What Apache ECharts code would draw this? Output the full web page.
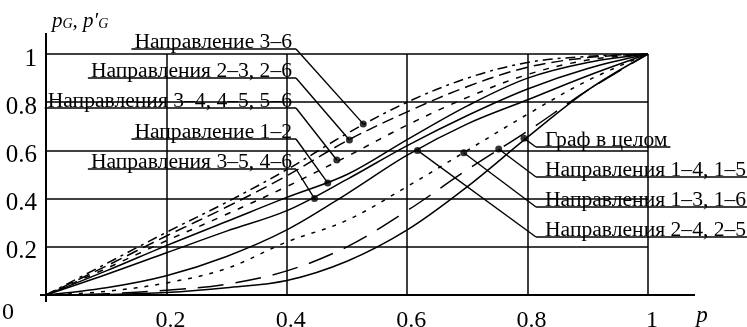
<!DOCTYPE html>
<html><head><meta charset="utf-8">
<script src="https://cdn.jsdelivr.net/npm/echarts@6.0.0/dist/echarts.min.js"></script>
<style>html,body{margin:0;padding:0;background:#fff}#c{width:747px;height:327px}</style>
</head><body><div id="c"></div>
<script>
// ---- data ----
const xs      = [0, 0.1, 0.2, 0.3, 0.4, 0.5, 0.6, 0.7, 0.8, 0.9, 1];
const dir36   = [0, 0.13, 0.26, 0.385, 0.52, 0.67, 0.80, 0.90, 0.965, 0.99, 1];
const dir23   = [0, 0.12, 0.245, 0.365, 0.495, 0.64, 0.76, 0.865, 0.945, 0.985, 1];
const dir34   = [0, 0.11, 0.225, 0.335, 0.45, 0.575, 0.705, 0.82, 0.915, 0.975, 1];
const dir12   = [0, 0.10, 0.205, 0.305, 0.405, 0.50, 0.645, 0.785, 0.90, 0.965, 1];
const dir35   = [0, 0.085, 0.175, 0.265, 0.35, 0.48, 0.62, 0.745, 0.855, 0.94, 1];
const dir24   = [0, 0.03, 0.08, 0.16, 0.27, 0.42, 0.58, 0.71, 0.81, 0.91, 1];
const dir13   = [0, 0.015, 0.05, 0.11, 0.22, 0.31, 0.45, 0.60, 0.75, 0.89, 1];
const dir14   = [0, 0.005, 0.02, 0.045, 0.10, 0.20, 0.35, 0.52, 0.68, 0.85, 1];
const graph   = [0, 0.002, 0.01, 0.03, 0.06, 0.14, 0.27, 0.45, 0.655, 0.85, 1];
const xTickLabels = ['0.2', '0.4', '0.6', '0.8', '1'];
const yTickLabels = ['0.2', '0.4', '0.6', '0.8', '1'];

const curveNames = ['Направление 3–6', 'Направления 2–3, 2–6', 'Направления 3–4, 4–5, 5–6',
  'Направление 1–2', 'Направления 3–5, 4–6', 'Направления 2–4, 2–5',
  'Направления 1–3, 1–6', 'Направления 1–4, 1–5', 'Граф в целом'];
const curveValues = [dir36, dir23, dir34, dir12, dir35, dir24, dir13, dir14, graph];
const curveDash = [[10,5,3,5], [12,6], [6,8], 'solid', 'solid', 'solid', [4,7], [26,12], 'solid'];

// annotation anchor points on the curves (data coordinates)
const annotX = [0.527, 0.504, 0.483, 0.468, 0.446, 0.617, 0.694, 0.752, 0.794];
const annotY = [0.71, 0.643, 0.56, 0.465, 0.40, 0.60, 0.59, 0.606, 0.65];

// ---- layout ----
const FONT = '"Liberation Serif", "Times New Roman", serif';
const leftLabels = [ // index into curveNames, underline y (px)
  {i:0, uy:49}, {i:1, uy:78}, {i:2, uy:108}, {i:3, uy:139}, {i:4, uy:169}
];
const rightLabels = [
  {i:8, uy:147}, {i:7, uy:177}, {i:6, uy:207}, {i:5, uy:237}
];

const chart = echarts.init(document.getElementById('c'), null, {renderer:'canvas'});
const series = curveValues.map((vals, k) => ({
  type: 'line', name: curveNames[k], data: xs.map((x, j) => [x, vals[j]]),
  smooth: 0.35, symbol: 'none', silent: true,
  lineStyle: {color: '#000', width: 1.5, type: curveDash[k]}
}));
series.push({
  type: 'scatter', data: annotX.map((x, j) => [x, annotY[j]]),
  symbolSize: 7, itemStyle: {color: '#000'}, z: 10, silent: true
});

chart.setOption({
  animation: false,
  backgroundColor: '#fff',
  grid: {left: 46, right: 99, top: 54, bottom: 32, containLabel: false, outerBoundsMode: 'none'},
  xAxis: {
    type: 'value', min: 0, max: 1, interval: 0.2,
    axisLine: {show: false}, axisTick: {show: false},
    splitLine: {show: true, lineStyle: {color: '#000', width: 1.5}},
    axisLabel: {
      color: '#000', fontFamily: FONT, fontSize: 24, margin: 14, padding: [0,0,0,8],
      formatter: v => { const k = Math.round(v / 0.2) - 1; return k >= 0 ? xTickLabels[k] : ''; }
    }
  },
  yAxis: {
    type: 'value', min: 0, max: 1, interval: 0.2,
    axisLine: {show: false}, axisTick: {show: false},
    splitLine: {show: true, lineStyle: {color: '#000', width: 1.5}},
    axisLabel: {
      color: '#000', fontFamily: FONT, fontSize: 25, margin: 9,
      formatter: v => { const k = Math.round(v / 0.2) - 1; return k >= 0 ? '{t|' + yTickLabels[k] + '}' : ''; },
      rich: {t: {color: '#000', fontFamily: FONT, fontSize: 25, padding: [10, 0, 0, 0]}}
    }
  },
  series: series
});

// ---- annotations & axis decorations ----
const ctx = document.createElement('canvas').getContext('2d');
const LFONT = '21.6px ' + FONT;
ctx.font = LFONT;
const o = chart.convertToPixel({gridIndex: 0}, [0, 0]);
const g = [];
const ln = (x1, y1, x2, y2, w) => g.push({type: 'line', silent: true, z: 20,
  shape: {x1, y1, x2, y2}, style: {stroke: '#000', lineWidth: w || 1.4}});
// axis lines (extend past the plot like the reference)
ln(o[0] - 6, o[1], o[0] + 649, o[1], 2);
ln(o[0], o[1] + 7, o[0], o[1] - 262, 2);
// left labels
const LX = 292;
leftLabels.forEach(L => {
  const txt = curveNames[L.i];
  const w = ctx.measureText(txt).width;
  g.push({type: 'text', silent: true, z: 20, x: LX, y: L.uy + 4,
    style: {text: txt, font: LFONT, fill: '#000', textAlign: 'right', textVerticalAlign: 'bottom'}});
  ln(LX - w - 3, L.uy, LX + 4, L.uy);
  const p = chart.convertToPixel({gridIndex: 0}, [annotX[L.i], annotY[L.i]]);
  ln(LX + 4, L.uy, p[0], p[1]);
});
// right labels
const RX = 545;
rightLabels.forEach(L => {
  const txt = curveNames[L.i];
  const w = ctx.measureText(txt).width;
  g.push({type: 'text', silent: true, z: 20, x: RX, y: L.uy + 4,
    style: {text: txt, font: LFONT, fill: '#000', textAlign: 'left', textVerticalAlign: 'bottom'}});
  ln(RX - 9, L.uy, RX + w + 3, L.uy);
  const p = chart.convertToPixel({gridIndex: 0}, [annotX[L.i], annotY[L.i]]);
  ln(RX - 9, L.uy, p[0], p[1]);
});
// origin label and axis titles
g.push({type: 'text', silent: true, x: 8, y: o[1] + 18,
  style: {text: '0', font: '24px ' + FONT, fill: '#000', textAlign: 'center', textVerticalAlign: 'middle'}});
g.push({type: 'text', silent: true, x: 702, y: o[1] + 21,
  style: {text: 'p', font: 'italic 23px ' + FONT, fill: '#000', textAlign: 'center', textVerticalAlign: 'middle'}});
g.push({type: 'text', silent: true, x: 52, y: 21,
  style: {text: '{i|p}{s|G}{i|, p\u2032}{s|G}', fill: '#000', textVerticalAlign: 'middle',
    rich: {i: {font: 'italic 21px ' + FONT, fill: '#000'},
           s: {font: 'italic 14px ' + FONT, fill: '#000', padding: [7, 0, 0, 0]}}}});
chart.setOption({graphic: g});
</script>
</body></html>
